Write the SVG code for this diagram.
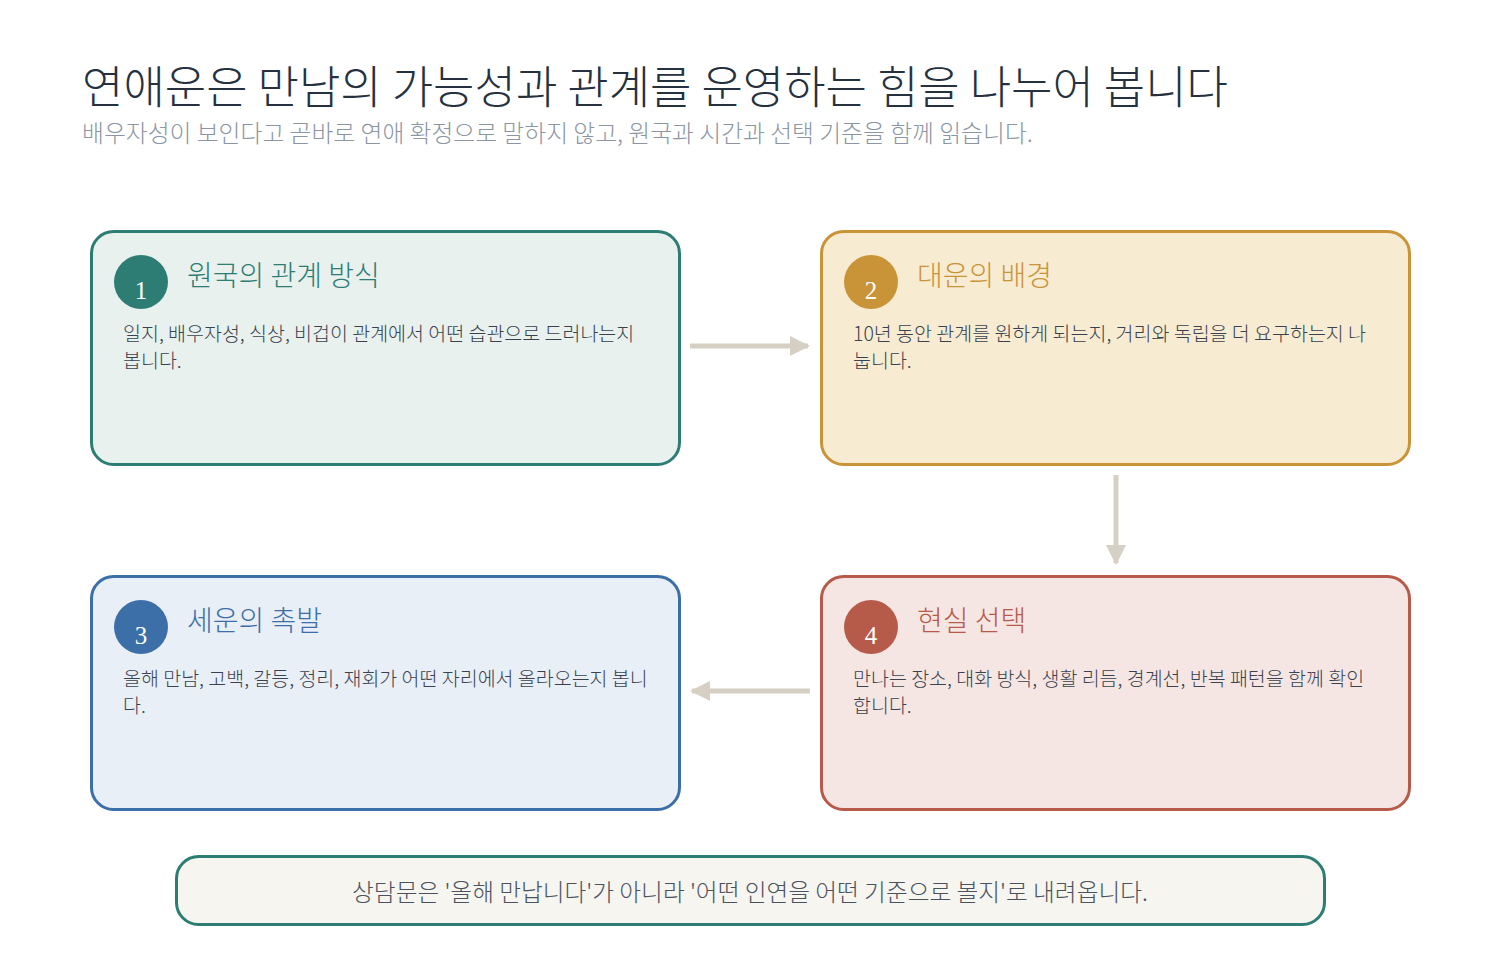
<svg xmlns="http://www.w3.org/2000/svg" width="1500" height="980" viewBox="0 0 1500 980">
<style>
text{font-family:"Noto Sans CJK KR","Noto Sans",sans-serif;}
.title{font-size:45px;fill:#26313f;font-weight:300;}
.sub{font-size:23.8px;fill:#8b95a3;font-weight:300;}
.card{stroke-width:3;}
.head{font-size:28px;font-weight:300;}
.body{font-size:19.5px;fill:#39424e;font-weight:300;}
.num{font-family:"Liberation Serif","DejaVu Serif",serif;font-size:25px;fill:#ffffff;text-anchor:middle;}
.conn{stroke:#d6d0c4;stroke-width:5;fill:none;}
.foot{font-size:23.7px;fill:#4a5260;font-weight:300;text-anchor:middle;}
</style>
<defs>
<marker id="ah" viewBox="0 0 10 10" refX="9" refY="5" markerWidth="4" markerHeight="4" orient="auto" markerUnits="strokeWidth">
<path d="M0,0 L10,5 L0,10 z" fill="#d6d0c4"/>
</marker>
</defs>
<rect width="1500" height="980" fill="#ffffff"/>
<text class="title" x="82" y="104">연애운은 만남의 가능성과 관계를 운영하는 힘을 나누어 봅니다</text>
<text class="sub" x="82" y="142">배우자성이 보인다고 곧바로 연애 확정으로 말하지 않고, 원국과 시간과 선택 기준을 함께 읽습니다.</text>

<g id="connectors">
<line class="conn" x1="690" y1="346" x2="808" y2="346" marker-end="url(#ah)"/>
<line class="conn" x1="1116" y1="475" x2="1116" y2="563" marker-end="url(#ah)"/>
<line class="conn" x1="810" y1="691" x2="692" y2="691" marker-end="url(#ah)"/>
</g>

<g id="node1">
<rect class="card" x="91.5" y="231.5" width="588" height="233" rx="22" fill="#e8f1ed" stroke="#2e7d74"/>
<circle cx="141" cy="282" r="27" fill="#2e7d74"/>
<text class="num" x="141" y="299">1</text>
<text class="head" x="187" y="286" fill="#2e7d74">원국의 관계 방식</text>
<text class="body" x="123" y="341">일지, 배우자성, 식상, 비겁이 관계에서 어떤 습관으로 드러나는지</text>
<text class="body" x="123" y="368">봅니다.</text>
</g>

<g id="node2">
<rect class="card" x="821.5" y="231.5" width="588" height="233" rx="22" fill="#f7ebd2" stroke="#c99438"/>
<circle cx="871" cy="282" r="27" fill="#c99438"/>
<text class="num" x="871" y="299">2</text>
<text class="head" x="917" y="286" fill="#c99438">대운의 배경</text>
<text class="body" x="853" y="341">10년 동안 관계를 원하게 되는지, 거리와 독립을 더 요구하는지 나</text>
<text class="body" x="853" y="368">눕니다.</text>
</g>

<g id="node3">
<rect class="card" x="91.5" y="576.5" width="588" height="233" rx="22" fill="#e9eff7" stroke="#3c6ea8"/>
<circle cx="141" cy="627" r="27" fill="#3c6ea8"/>
<text class="num" x="141" y="644">3</text>
<text class="head" x="187" y="631" fill="#3c6ea8">세운의 촉발</text>
<text class="body" x="123" y="686">올해 만남, 고백, 갈등, 정리, 재회가 어떤 자리에서 올라오는지 봅니</text>
<text class="body" x="123" y="713">다.</text>
</g>

<g id="node4">
<rect class="card" x="821.5" y="576.5" width="588" height="233" rx="22" fill="#f6e6e3" stroke="#b65a4a"/>
<circle cx="871" cy="627" r="27" fill="#b65a4a"/>
<text class="num" x="871" y="644">4</text>
<text class="head" x="917" y="631" fill="#b65a4a">현실 선택</text>
<text class="body" x="853" y="686">만나는 장소, 대화 방식, 생활 리듬, 경계선, 반복 패턴을 함께 확인</text>
<text class="body" x="853" y="713">합니다.</text>
</g>

<g id="footer">
<rect x="176.5" y="856.5" width="1148" height="68" rx="22" fill="#f6f5ef" stroke="#2e7d74" stroke-width="3"/>
<text class="foot" x="750" y="901">상담문은 '올해 만납니다'가 아니라 '어떤 인연을 어떤 기준으로 볼지'로 내려옵니다.</text>
</g>
</svg>
